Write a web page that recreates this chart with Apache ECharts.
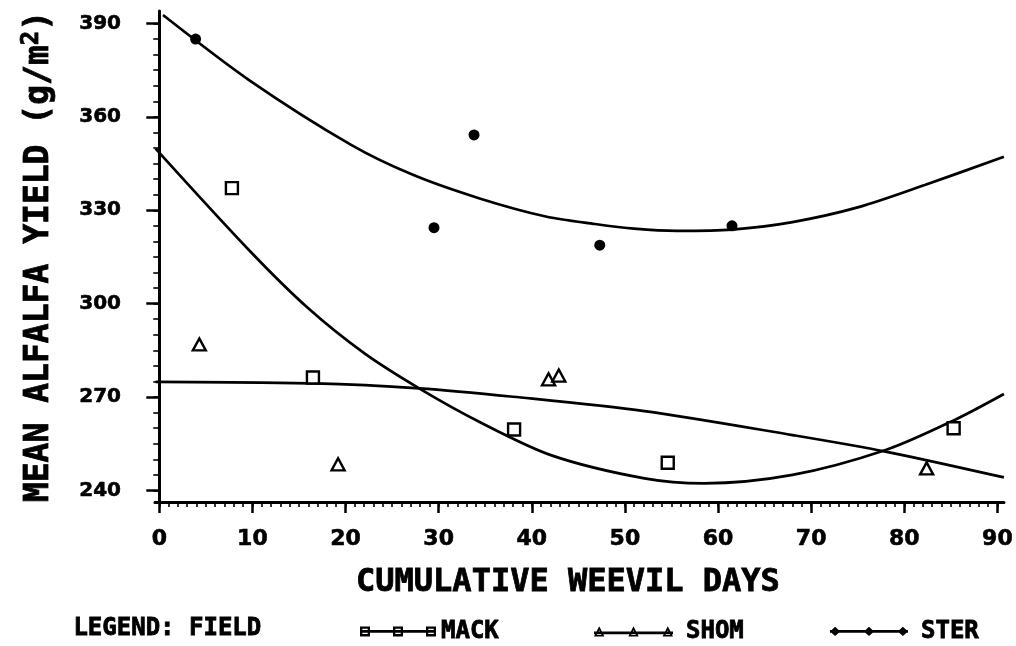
<!DOCTYPE html>
<html>
<head>
<meta charset="utf-8">
<script src="https://cdn.jsdelivr.net/npm/echarts@6/dist/echarts.min.js"></script>
<style>
  html, body { margin: 0; padding: 0; background: #fff; }
  #chart { width: 1016px; height: 646px; }
</style>
</head>
<body>
<div id="chart"></div>
<script>
// Tick positions
const xMajorTicks = [0, 10, 20, 30, 40, 50, 60, 70, 80, 90];
const yMajorTicks = [240, 270, 300, 330, 360, 390];

// Observed yields per field: [cumulative weevil days, mean yield g/m2]
const mackPoints = [[7.8, 337.1], [16.5, 276.3], [38.1, 259.6], [54.6, 248.9], [85.3, 260.0]];
const shomPoints = [[4.3, 286.9], [19.2, 248.4], [41.8, 275.7], [42.9, 276.9], [82.4, 247.1]];
const sterPoints = [[3.9, 385.0], [29.5, 324.4], [33.8, 354.2], [47.3, 318.8], [61.5, 325.0]];

// Fitted response curves per field
const mackCurve = [[-0.4, 349.8], [9.7, 317.0], [16.0, 298.5], [22.0, 284.1], [27.9, 272.8], [34.4, 262.0],
  [42.2, 251.2], [52.1, 243.9], [58.5, 242.3], [68.0, 245.0], [78.0, 253.0], [85.3, 262.5], [90.7, 271.0]];
const shomCurve = [[-0.4, 274.9], [16.7, 274.4], [27.9, 272.8], [38.0, 270.1], [52.1, 265.5],
  [68.0, 257.8], [78.0, 252.5], [90.7, 244.2]];
const sterCurve = [[0.4, 392.7], [9.6, 371.9], [20.6, 351.0], [27.3, 341.3], [34.4, 333.8], [41.5, 328.0],
  [46.8, 325.6], [51.0, 324.1], [55.6, 323.4], [61.5, 323.8], [68.0, 326.2], [75.1, 331.0], [82.2, 338.1], [90.7, 347.2]];

const X_MIN = -0.46, X_MAX = 90.7;
const Y_MIN = 236.3, Y_MAX = 394;

const xMinorTicks = [];
for (let v = 0; v <= 90; v += 1) xMinorTicks.push(v);
const yMinorTicks = [];
for (let v = 240; v <= 390; v += 5) yMinorTicks.push(v);

const FONT = 'DejaVu Sans Mono';
const NUM_FONT = 'DejaVu Sans';
const INK = '#000';
// heavy pen look for all lettering
const PEN = { fontFamily: FONT, fontWeight: 'bold', color: INK, textBorderColor: INK, textBorderWidth: 0.8 };
const NUM_PEN = { fontFamily: NUM_FONT, fontWeight: 'bold', color: INK, textBorderColor: INK, textBorderWidth: 0.6 };

// Legend icons: three markers joined by a line
const ICON_MACK = 'path://M0 3.7H76V6.3H0Z M0 0H10V10H0Z M2.3 2.3V7.7H7.7V2.3Z M33 0H43V10H33Z M35.3 2.3V7.7H40.7V2.3Z M66 0H76V10H66Z M68.3 2.3V7.7H73.7V2.3Z';
const ICON_SHOM = 'path://M0 5.2H76V7.8H0Z M0 10L5 0L10 10Z M2.7 8.5L7.3 8.5L5 3.9Z M33 10L38 0L43 10Z M35.7 8.5L40.3 8.5L38 3.9Z M66 10L71 0L76 10Z M68.7 8.5L73.3 8.5L71 3.9Z';
const ICON_STER = 'path://M0 3.7H76V6.3H0Z M0 5L5 0.5L10 5L5 9.5Z M33 5L38 0.5L43 5L38 9.5Z M66 5L71 0.5L76 5L71 9.5Z';

function legendFor(name, left, width, icon, pad) {
  return {
    data: [name],
    left: left,
    top: 614,
    icon: icon,
    itemWidth: width,
    itemHeight: 12,
    selectedMode: false,
    itemStyle: { color: INK, borderWidth: 0, opacity: 1 },
    textStyle: Object.assign({ fontSize: 24, padding: [0, 0, 0, pad] }, PEN)
  };
}

const chart = echarts.init(document.getElementById('chart'), null, { renderer: 'canvas' });

chart.setOption({
  animation: false,
  backgroundColor: '#fff',
  grid: { left: 155, top: 11, width: 858, height: 491 },
  xAxis: [{
    type: 'value', min: X_MIN, max: X_MAX, position: 'bottom',
    name: 'CUMULATIVE WEEVIL DAYS', nameLocation: 'middle', nameGap: 65,
    nameTextStyle: Object.assign({ fontSize: 32, padding: [0, 23, 0, 0] }, PEN),
    axisLine: { show: true, lineStyle: { color: INK, width: 3 } },
    axisTick: { show: true, customValues: xMajorTicks, length: 11, lineStyle: { color: INK, width: 2.5 } },
    axisLabel: Object.assign({ customValues: xMajorTicks, margin: 26, fontSize: 22 }, NUM_PEN),
    splitLine: { show: false }
  }, {
    type: 'value', min: X_MIN, max: X_MAX, position: 'bottom',
    axisLine: { show: false },
    axisTick: { show: true, customValues: xMinorTicks, length: 5, lineStyle: { color: INK, width: 1.6 } },
    axisLabel: { show: false },
    splitLine: { show: false }
  }],
  yAxis: [{
    type: 'value', min: Y_MIN, max: Y_MAX, position: 'left',
    name: '{a|MEAN ALFALFA YIELD (g/m}{s|2}{a|)}', nameLocation: 'middle', nameGap: 97, nameRotate: 90,
    nameTextStyle: {
      rich: {
        a: Object.assign({ fontSize: 33 }, PEN),
        s: Object.assign({ fontSize: 24, verticalAlign: 'top', padding: [0, 0, 14, 0] }, PEN)
      }
    },
    axisLine: { show: true, lineStyle: { color: INK, width: 3 } },
    axisTick: { show: true, customValues: yMajorTicks, length: 13, lineStyle: { color: INK, width: 2.5 } },
    axisLabel: Object.assign({ customValues: yMajorTicks, margin: 34, fontSize: 20 }, NUM_PEN),
    splitLine: { show: false }
  }, {
    type: 'value', min: Y_MIN, max: Y_MAX, position: 'left',
    axisLine: { show: false },
    axisTick: { show: true, customValues: yMinorTicks, length: 6, lineStyle: { color: INK, width: 1.6 } },
    axisLabel: { show: false },
    splitLine: { show: false }
  }],
  legend: [
    legendFor('MACK', 355, 76, ICON_MACK, 0),
    legendFor('SHOM', 589, 79, ICON_SHOM, 8),
    legendFor('STER', 825, 78, ICON_STER, 8)
  ],
  graphic: [{
    type: 'text', left: 73, top: 616,
    style: { text: 'LEGEND: FIELD', fontFamily: FONT, fontWeight: 'bold', fontSize: 24, fill: INK,
      stroke: INK, lineWidth: 0.8 }
  }],
  series: [
    { name: 'MACK fit', type: 'line', data: mackCurve, smooth: 0.3, showSymbol: false, clip: false,
      lineStyle: { color: INK, width: 2.7 }, z: 2 },
    { name: 'SHOM fit', type: 'line', data: shomCurve, smooth: 0.3, showSymbol: false, clip: false,
      lineStyle: { color: INK, width: 2.7 }, z: 2 },
    { name: 'STER fit', type: 'line', data: sterCurve, smooth: 0.3, showSymbol: false, clip: false,
      lineStyle: { color: INK, width: 2.7 }, z: 2 },
    { name: 'MACK', type: 'scatter', data: mackPoints, symbol: 'rect', symbolSize: 12, z: 3,
      itemStyle: { color: '#fff', borderColor: INK, borderWidth: 2.4, opacity: 1 } },
    { name: 'SHOM', type: 'scatter', data: shomPoints, symbol: 'triangle', symbolSize: [13, 12], z: 3,
      itemStyle: { color: '#fff', borderColor: INK, borderWidth: 2.4, opacity: 1 } },
    { name: 'STER', type: 'scatter', data: sterPoints, symbol: 'circle', symbolSize: 11, z: 3,
      itemStyle: { color: INK, borderWidth: 0, opacity: 1 } }
  ]
});
</script>
</body>
</html>
